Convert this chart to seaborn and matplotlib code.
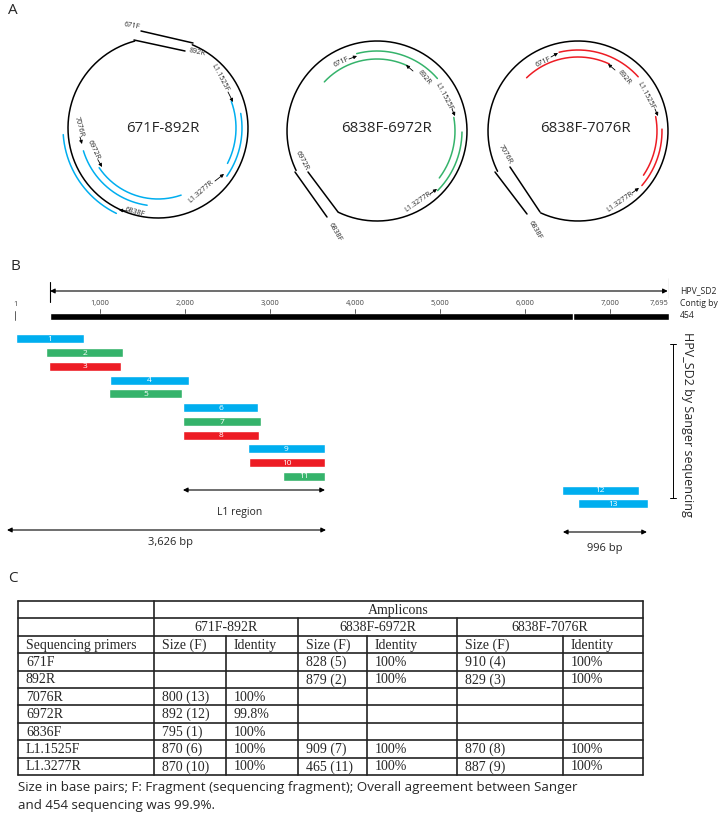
import numpy as np
import pandas as pd
import seaborn as sns
import matplotlib.pyplot as plt

# # # data # # #

amplicons = ['671F-892R', '6838F-6972R', '6838F-7076R']
amp_colors = ['#00AEEF', '#35B36B', '#ED1C24']

genome_len = 7695
contig_start = 412
tick_vals = [1000, 2000, 3000, 4000, 5000, 6000, 7000, 7695]

frag_ids = list(range(1, 14))
frag_start = [12, 365, 400, 1118, 1106, 1976, 1976, 1976, 2741, 2753, 3153, 6435, 6624]
frag_end = [812, 1271, 1247, 2047, 1965, 2859, 2894, 2871, 3647, 3647, 3647, 7341, 7447]
frag_color = ['#00AEEF', '#35B36B', '#ED1C24', '#00AEEF', '#35B36B', '#00AEEF', '#35B36B',
              '#ED1C24', '#00AEEF', '#ED1C24', '#35B36B', '#00AEEF', '#00AEEF']

primers = ['671F', '892R', '7076R', '6972R', '6836F', 'L1.1525F', 'L1.3277R']
size_671 = ['', '', '800 (13)', '892 (12)', '795 (1)', '870 (6)', '870 (10)']
id_671 = ['', '', '100%', '99.8%', '100%', '100%', '100%']
size_6972 = ['828 (5)', '879 (2)', '', '', '', '909 (7)', '465 (11)']
id_6972 = ['100%', '100%', '', '', '', '100%', '100%']
size_7076 = ['910 (4)', '829 (3)', '', '', '', '870 (8)', '887 (9)']
id_7076 = ['100%', '100%', '', '', '', '100%', '100%']

# # # setup # # #

sns.set_theme(style='white')
plt.rcParams['font.family'] = ['Open Sans', 'DejaVu Sans']

W, H = 722, 821
fig = plt.figure(figsize=(W / 100, H / 100), dpi=100)
ax = fig.add_axes([0, 0, 1, 1])
ax.set_xlim(0, W)
ax.set_ylim(H, 0)
ax.axis('off')


def arc(cx, cy, r, a0, a1, **kw):
    t = np.radians(np.linspace(a0, a1, 200))
    ax.plot(cx + r * np.cos(t), cy - r * np.sin(t), **kw)


def small_arrow(tail, tip):
    ax.annotate('', xy=tip, xytext=tail,
                arrowprops=dict(arrowstyle='-|>', color='black', lw=0.6,
                                mutation_scale=5, shrinkA=0, shrinkB=0))


# # # Panel A: the three amplicon maps # # #

circles = [
    dict(c=(158, 128), r=90, gap=(105, 427.6),
         lines=[((134, 40), (185, 51)), ((141, 31), (193, 43))],
         arcs=[(78, 20, -27), (84, 10, -35), (95, 184, 244), (78, 197, 262), (71, 214, 289)],
         labels=[('671F', 132, 26, -10), ('892R', 197, 52, -12), ('L1.1525F', 220, 78, -62),
                 ('L1.3277R', 201, 192, 41), ('7076R', 79, 127, -75), ('6972R', 93, 150, -65),
                 ('6838F', 135, 212, -15)],
         arrows=[((228, 92), (233, 102)), ((215, 181), (224, 174)), ((80, 137), (82, 144)),
                 ((98, 160), (102, 167)), ((127, 211), (119, 210))],
         name_xy=(163, 128)),
    dict(c=(377, 131), r=90, gap=(244.6, 566),
         lines=[((295, 172), (327, 217)), ((308, 172), (338, 212))],
         arcs=[(80, 104.7, 41), (72, 137, 65), (78, 10, -37), (85, -0.7, -44.5)],
         labels=[('671F', 341, 62, 25), ('892R', 424, 77, -50), ('L1.1525F', 444, 97, -62),
                 ('L1.3277R', 418, 202, 35), ('6972R', 302, 161, -62), ('6838F', 335, 232, -60)],
         arrows=[((349, 59), (357, 56)), ((413, 71), (406, 65)), ((452, 109), (455, 116)),
                 ((430, 194), (437, 189))],
         name_xy=(386, 128)),
    dict(c=(578, 131), r=90, gap=(245.5, 566.6),
         lines=[((495, 172), (527, 214)), ((510, 167), (540, 212))],
         arcs=[(81, 103.5, 42), (74, 134, 65), (79, 10.5, -34), (84, 1.3, -40.5)],
         labels=[('671F', 543, 62, 25), ('892R', 624, 77, -50), ('L1.1525F', 646, 96, -62),
                 ('L1.3277R', 620, 202, 35), ('7076R', 505, 154, -60), ('6838F', 535, 230, -60)],
         arrows=[((551, 57), (558, 53)), ((615, 70), (608, 64)), ((655, 109), (658, 116)),
                 ((632, 193), (639, 188))],
         name_xy=(585, 128)),
]

for amp, col, cc in zip(amplicons, amp_colors, circles):
    cx, cy = cc['c']
    arc(cx, cy, cc['r'], cc['gap'][0], cc['gap'][1], color='black', lw=1.1)
    for p0, p1 in cc['lines']:
        ax.plot([p0[0], p1[0]], [p0[1], p1[1]], color='black', lw=1.1)
    for r, a0, a1 in cc['arcs']:
        arc(cx, cy, r, a0, a1, color=col, lw=1.1)
    for txt, x, y, rot in cc['labels']:
        ax.text(x, y, txt, fontsize=5.2, rotation=rot, ha='center', va='center',
                rotation_mode='anchor')
    for tail, tip in cc['arrows']:
        small_arrow(tail, tip)
    ax.text(*cc['name_xy'], amp, fontsize=10.8, ha='center', va='center')

# # # Panel B: genome map, x in bp # # #

axb = fig.add_axes([15 / W, 0, (669 - 15) / W, 1])
axb.set_xlim(0, genome_len)
axb.set_ylim(H, 0)
axb.axis('off')

axb.annotate('', xy=(contig_start, 291), xytext=(genome_len - 15, 291),
             arrowprops=dict(arrowstyle='<|-|>', color='black', lw=0.8,
                             mutation_scale=7, shrinkA=0, shrinkB=0))
axb.plot([contig_start, contig_start], [282, 302], color='black', lw=0.8)
axb.plot([genome_len, genome_len], [278, 298], color='black', lw=0.8)

axb.barh(316.5, genome_len - contig_start, left=contig_start, height=7, color='black')
axb.plot([6565, 6565], [313, 320], color='white', lw=1)

axb.text(0, 304, '1', fontsize=5.3, ha='center', va='center', color='#444')
axb.plot([0, 0], [311, 320], color='#444', lw=0.6)
for t in tick_vals:
    ha = 'right' if t == genome_len else 'center'
    axb.text(t - (10 if ha == 'right' else 0), 304, f'{t:,}', fontsize=5.3, ha=ha,
             va='center', color='#444')
    axb.plot([t, t], [309, 313], color='#444', lw=0.6)

for tx, ty in [('HPV_SD2', 291), ('Contig by', 303), ('454', 315)]:
    axb.text(7824, ty, tx, fontsize=6.2, ha='left', va='center', clip_on=False)

row_y = 339 + 13.75 * np.arange(len(frag_ids))
frags = pd.DataFrame({'id': frag_ids, 'start': frag_start, 'end': frag_end,
                      'color': frag_color, 'y': row_y})
axb.barh(frags['y'], frags['end'] - frags['start'], left=frags['start'], height=9,
         color=frags['color'])
for _, f in frags.iterrows():
    axb.text((f['start'] + f['end']) / 2, f['y'] + 0.5, str(f['id']), color='white',
             fontsize=6, ha='center', va='center')

# bracket for the Sanger fragments
axb.plot([7741, 7741], [344, 498], color='black', lw=0.7, clip_on=False)
for yy in (344, 498):
    axb.plot([7706, 7776], [yy, yy], color='black', lw=0.7, clip_on=False)
axb.text(7918, 424, 'HPV_SD2 by Sanger sequencing', rotation=-90, fontsize=9,
         ha='center', va='center', clip_on=False)


def span_arrow(x0, x1, y):
    axb.annotate('', xy=(x0, y), xytext=(x1, y),
                 arrowprops=dict(arrowstyle='<|-|>', color='black', lw=0.8,
                                 mutation_scale=7, shrinkA=0, shrinkB=0),
                 annotation_clip=False)


span_arrow(frag_start[5], frag_end[10], 490)
axb.text(2647, 512, 'L1 region', fontsize=7.5, ha='center', va='center')
span_arrow(-94, 3659, 530)
axb.text(1835, 542, '3,626 bp', fontsize=8, ha='center', va='center')
span_arrow(6447, 7435, 532)
axb.text(6941, 548, '996 bp', fontsize=8, ha='center', va='center')

# # # Panel C: table # # #

col_edges = [18, 154, 226, 298, 367, 457, 563, 643]
row_edges = np.linspace(601, 775, 11)
SERIF = ['Liberation Serif', 'DejaVu Serif']

table = pd.DataFrame({'primer': primers, 's1': size_671, 'i1': id_671,
                      's2': size_6972, 'i2': id_6972, 's3': size_7076, 'i3': id_7076})

lw = 1.2
for ry in row_edges:
    ax.plot([col_edges[0], col_edges[-1]], [ry, ry], color='#222', lw=lw)
for cxe in (col_edges[0], col_edges[1], col_edges[-1]):
    ax.plot([cxe, cxe], [row_edges[0], row_edges[-1]], color='#222', lw=lw)
for cxe in (col_edges[3], col_edges[5]):
    ax.plot([cxe, cxe], [row_edges[1], row_edges[-1]], color='#222', lw=lw)
for cxe in (col_edges[2], col_edges[4], col_edges[6]):
    ax.plot([cxe, cxe], [row_edges[2], row_edges[-1]], color='#222', lw=lw)


def cell_y(i):
    return (row_edges[i] + row_edges[i + 1]) / 2 + 0.5


ax.text((col_edges[1] + col_edges[-1]) / 2, cell_y(0), 'Amplicons', family=SERIF,
        fontsize=10, ha='center', va='center')
for k, amp in enumerate(amplicons):
    ax.text((col_edges[1 + 2 * k] + col_edges[3 + 2 * k]) / 2, cell_y(1), amp,
            family=SERIF, fontsize=10, ha='center', va='center')
header = ['Sequencing primers'] + ['Size (F)', 'Identity'] * 3
for j, h in enumerate(header):
    ax.text(col_edges[j] + 8, cell_y(2), h, family=SERIF, fontsize=10, ha='left', va='center')
for i, row in enumerate(table.itertuples(index=False)):
    for j, val in enumerate(row):
        if val:
            ax.text(col_edges[j] + 8, cell_y(3 + i), val, family=SERIF, fontsize=10,
                    ha='left', va='center')

ax.text(18, 788, 'Size in base pairs; F: Fragment (sequencing fragment); Overall agreement '
        'between Sanger', fontsize=9.6, ha='left', va='center')
ax.text(18, 805, 'and 454 sequencing was 99.9%.', fontsize=9.6, ha='left', va='center')

# panel letters
ax.text(8, 11, 'A', fontsize=11, ha='left', va='center')
ax.text(11, 267, 'B', fontsize=11, ha='left', va='center')
ax.text(8, 578, 'C', fontsize=11, ha='left', va='center')

fig.savefig('out.png', dpi=100)
